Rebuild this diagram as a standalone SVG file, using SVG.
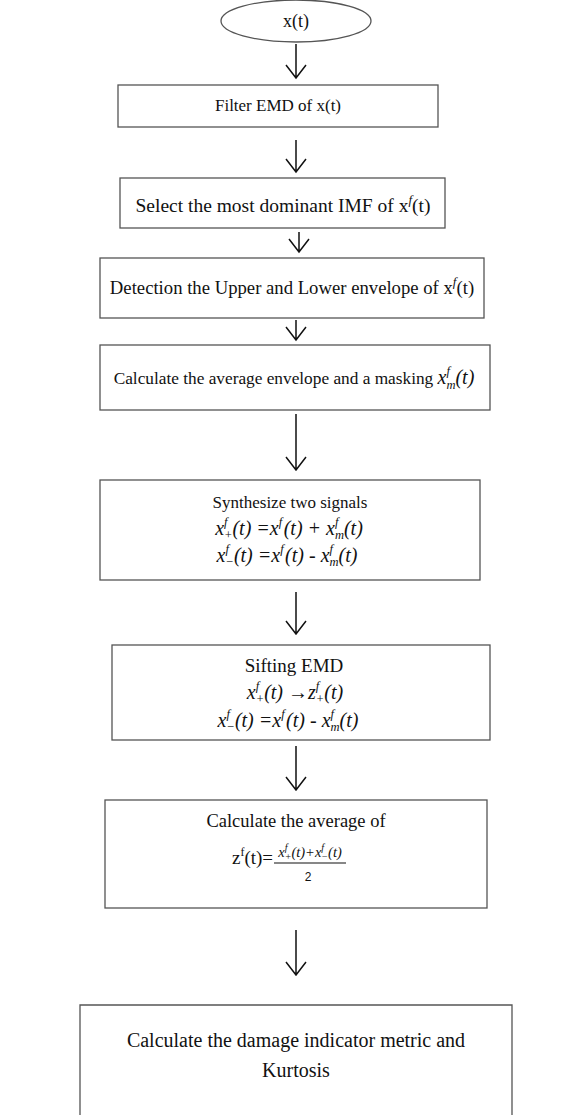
<svg xmlns="http://www.w3.org/2000/svg" width="570" height="1115" viewBox="0 0 570 1115">
<defs>
<style>
.box{fill:#fff;stroke:#555;stroke-width:1.3}
.t{font-family:"Liberation Serif","Times New Roman",serif;font-size:17px;fill:#111;text-anchor:middle}
.m{font-family:"Liberation Serif","Times New Roman",serif;font-style:italic;font-size:20px;fill:#111;text-anchor:middle}
.s{font-size:12.5px}
.ar{stroke:#111;stroke-width:1.5;fill:none}
</style>
</defs>
<rect width="570" height="1115" fill="#fff"/>
<g id="connectors">
<path class="ar" d="M296,44 V78 M286,65 L296,78 L306,65"/>
<path class="ar" d="M296,140 V172 M286,159 L296,172 L306,159"/>
<path class="ar" d="M299,232 V252 M289,239 L299,252 L309,239"/>
<path class="ar" d="M296,320 V340 M286,327 L296,340 L306,327"/>
<path class="ar" d="M296,414 V470 M286,457 L296,470 L306,457"/>
<path class="ar" d="M296,592 V634 M286,621 L296,634 L306,621"/>
<path class="ar" d="M296,746 V790 M286,777 L296,790 L306,777"/>
<path class="ar" d="M296,930 V975 M286,962 L296,975 L306,962"/>
</g>
<g id="n0"><ellipse cx="296" cy="21" rx="75" ry="21" fill="#fff" stroke="#555" stroke-width="1.3"/><text class="t" x="296" y="27" style="font-size:18px">x(t)</text></g>
<g id="n1"><rect class="box" x="118" y="85" width="320" height="42"/><text class="t" x="278" y="111">Filter EMD of x(t)</text></g>
<g id="n2"><rect class="box" x="120" y="178" width="325" height="50"/><text class="t" x="283" y="212" style="font-size:19.5px">Select the most dominant IMF of x<tspan style="font-style:italic;font-size:13px" dy="-8">f</tspan><tspan dy="8">(t)</tspan></text></g>
<g id="n3"><rect class="box" x="100" y="258" width="384" height="60"/><text class="t" x="292" y="294" style="font-size:18.7px">Detection the Upper and Lower envelope of x<tspan style="font-style:italic;font-size:13px" dy="-8">f</tspan><tspan dy="8">(t)</tspan></text></g>
<g id="n4"><rect class="box" x="100" y="345" width="390" height="65"/><text class="t" x="294" y="384" style="font-size:17.3px">Calculate the average envelope and a masking <tspan style="font-style:italic;font-size:20px">x</tspan><tspan style="font-style:italic;font-size:12.5px" dy="-9">f</tspan><tspan style="font-style:italic;font-size:12.5px" dx="-3.5" dy="14">m</tspan><tspan style="font-style:italic;font-size:20px" dy="-5">(t)</tspan></text></g>
<g id="n5"><rect class="box" x="100" y="480" width="380" height="100"/>
<text class="t" x="290" y="508">Synthesize two signals</text>
<text class="m" x="289" y="535">x<tspan class="s" dy="-9">f</tspan><tspan class="s" dx="-3.5" dy="13">+</tspan><tspan dy="-4">(t) =x</tspan><tspan class="s" dy="-9">f</tspan><tspan dx="1.5" dy="9">(t) + x</tspan><tspan class="s" dy="-9">f</tspan><tspan class="s" dx="-3.5" dy="13">m</tspan><tspan dy="-4">(t)</tspan></text>
<text class="m" x="287" y="562">x<tspan class="s" dy="-9">f</tspan><tspan class="s" dx="-3.5" dy="13">−</tspan><tspan dy="-4">(t) =x</tspan><tspan class="s" dy="-9">f</tspan><tspan dx="1.5" dy="9">(t) - x</tspan><tspan class="s" dy="-9">f</tspan><tspan class="s" dx="-3.5" dy="13">m</tspan><tspan dy="-4">(t)</tspan></text>
</g>
<g id="n6"><rect class="box" x="112" y="645" width="378" height="95"/>
<text class="t" x="294" y="672" style="font-size:19px">Sifting EMD</text>
<text class="m" x="295" y="699">x<tspan class="s" dy="-9">f</tspan><tspan class="s" dx="-3.5" dy="13">+</tspan><tspan dy="-4">(t) →z</tspan><tspan class="s" dy="-9">f</tspan><tspan class="s" dx="-3.5" dy="13">+</tspan><tspan dy="-4">(t)</tspan></text>
<text class="m" x="288" y="727">x<tspan class="s" dy="-9">f</tspan><tspan class="s" dx="-3.5" dy="13">−</tspan><tspan dy="-4">(t) =x</tspan><tspan class="s" dy="-9">f</tspan><tspan dx="1.5" dy="9">(t) - x</tspan><tspan class="s" dy="-9">f</tspan><tspan class="s" dx="-3.5" dy="13">m</tspan><tspan dy="-4">(t)</tspan></text>
</g>
<g id="n7"><rect class="box" x="105" y="800" width="382" height="108"/>
<text class="t" x="296" y="827" style="font-size:18.5px">Calculate the average of</text>
<text class="t" x="232" y="864" style="text-anchor:start;font-size:19px">z<tspan style="font-size:12px" dy="-8">f</tspan><tspan dy="8">(t)=</tspan></text>
<text class="m" x="310" y="857" style="font-size:14.5px">x<tspan style="font-size:10px" dy="-6">f</tspan><tspan style="font-size:10px" dx="-2.8" dy="9">+</tspan><tspan dy="-3">(t)+x</tspan><tspan style="font-size:10px" dy="-6">f</tspan><tspan style="font-size:10px" dx="-2.8" dy="9">−</tspan><tspan dy="-3">(t)</tspan></text>
<line x1="274" y1="863" x2="346" y2="863" stroke="#111" stroke-width="1.1"/>
<text x="308" y="881" style="font-family:'Liberation Sans',sans-serif;font-size:12px;text-anchor:middle;fill:#111">2</text>
</g>
<g id="n8"><path class="box" d="M80,1115 V1005 H512 V1115"/>
<text class="t" x="296" y="1047" style="font-size:20px">Calculate the damage indicator metric and</text>
<text class="t" x="296" y="1077" style="font-size:20px">Kurtosis</text>
</g>
</svg>
